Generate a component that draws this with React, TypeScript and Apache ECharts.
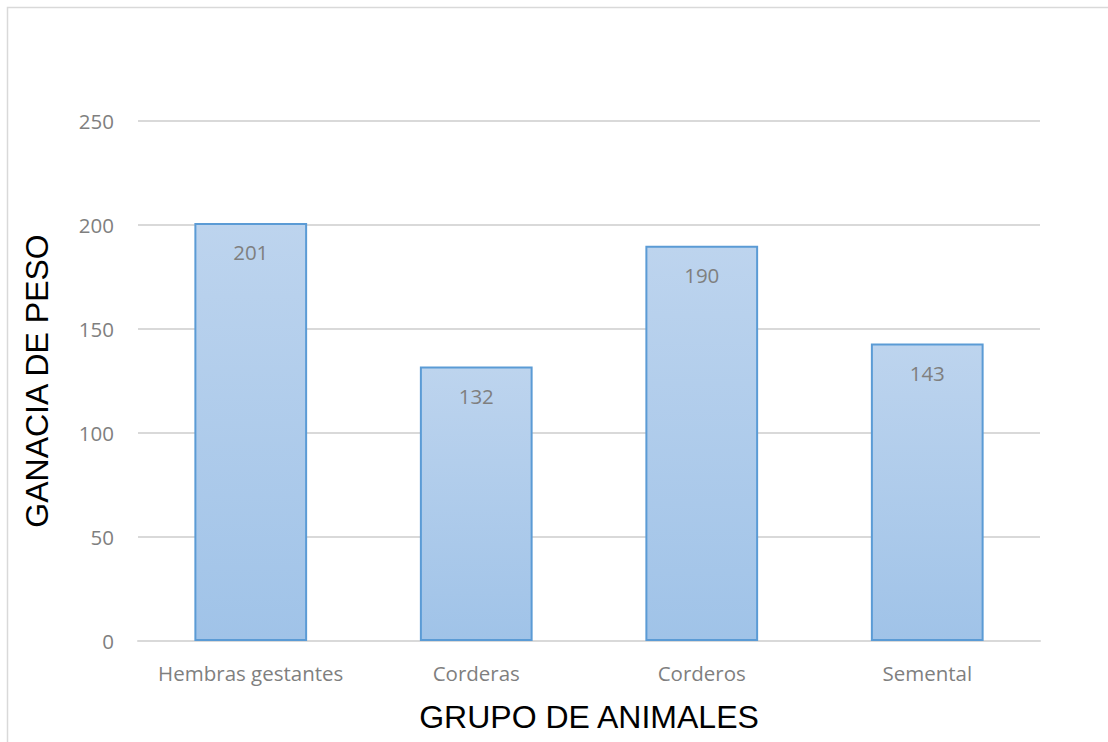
import React, { useEffect, useRef } from "react";
import * as echarts from "echarts";

const categories = ["Hembras gestantes", "Corderas", "Corderos", "Semental"];
const values = [201, 132, 190, 143];
const yMin = 0;
const yMax = 250;
const yInterval = 50;
const xTitle = "GRUPO DE ANIMALES";
const yTitle = "GANACIA DE PESO";

const labelFont = "'Open Sans', 'Noto Sans', sans-serif";

export default function App() {
  const ref = useRef<HTMLDivElement>(null);
  useEffect(() => {
    document.body.style.margin = "0";
    const chart = echarts.init(ref.current!, null, { renderer: "svg" });
    chart.setOption({
      animation: false,
      backgroundColor: "#ffffff",
      grid: { left: 138, right: 68, top: 121, bottom: 101, containLabel: false },
      graphic: [
        {
          type: "rect",
          shape: { x: 7.5, y: 7.5, width: 1120, height: 760 },
          style: { fill: "none", stroke: "#d9d9d9", lineWidth: 1.5 },
          silent: true,
        },
        {
          type: "text",
          x: 37,
          y: 381,
          rotation: Math.PI / 2,
          style: {
            text: yTitle,
            font: "32px 'Liberation Sans', Arial, sans-serif",
            fill: "#000000",
            align: "center",
            verticalAlign: "middle",
          },
        },
        {
          type: "text",
          x: 589,
          y: 717,
          style: {
            text: xTitle,
            font: "32px 'Liberation Sans', Arial, sans-serif",
            fill: "#000000",
            align: "center",
            verticalAlign: "middle",
          },
        },
      ],
      xAxis: {
        type: "category",
        data: categories,
        axisLine: { show: true, lineStyle: { color: "#d9d9d9", width: 2 } },
        axisTick: { show: false },
        axisLabel: { color: "#7f7f7f", fontSize: 20.5, fontFamily: labelFont, margin: 21, interval: 0 },
      },
      yAxis: {
        type: "value",
        min: yMin,
        max: yMax,
        interval: yInterval,
        axisLine: { show: false },
        axisTick: { show: false },
        splitLine: { lineStyle: { color: "#d9d9d9", width: 2 } },
        axisLabel: { color: "#7f7f7f", fontSize: 20.5, fontFamily: labelFont, margin: 24 },
      },
      series: [
        {
          type: "bar",
          data: values,
          barWidth: "50%",
          itemStyle: {
            color: new echarts.graphic.LinearGradient(0, 0, 0, 1, [
              { offset: 0, color: "#bdd4ee" },
              { offset: 1, color: "#a0c3e8" },
            ]),
            borderColor: "#5b9bd5",
            borderWidth: 2,
          },
          label: {
            show: true,
            position: "insideTop",
            distance: 19,
            color: "#7f7f7f",
            fontSize: 20.5,
            fontFamily: labelFont,
          },
        },
      ],
    });
    return () => chart.dispose();
  }, []);
  return <div ref={ref} style={{ position: "absolute", left: 0, top: 0, width: 1108, height: 742 }} />;
}
